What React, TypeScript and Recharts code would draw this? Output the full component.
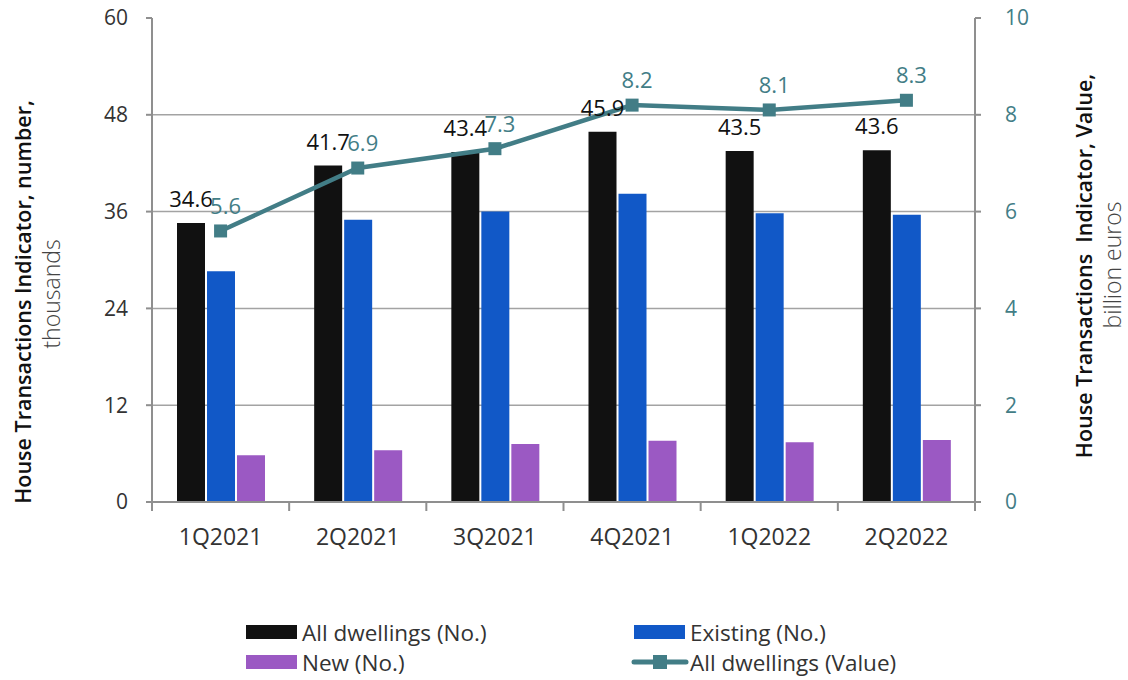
import React from "react";
import {
  ComposedChart,
  Bar,
  Line,
  XAxis,
  YAxis,
  CartesianGrid,
  LabelList,
} from "recharts";

const quarters = ["1Q2021", "2Q2021", "3Q2021", "4Q2021", "1Q2022", "2Q2022"];
const allDwellings = [34.6, 41.7, 43.4, 45.9, 43.5, 43.6];
const existing = [28.6, 35.0, 36.0, 38.2, 35.8, 35.6];
const newDwellings = [5.8, 6.4, 7.2, 7.6, 7.4, 7.7];
const valueBn = [5.6, 6.9, 7.3, 8.2, 8.1, 8.3];

const leftTicks = [0, 12, 24, 36, 48, 60];
const rightTicks = [0, 2, 4, 6, 8, 10];
const gridValues = [12, 24, 36, 48];

const seriesNames = [
  "All dwellings (No.)",
  "Existing (No.)",
  "New (No.)",
  "All dwellings (Value)",
];

const FONT = "'Open Sans', 'Noto Sans', sans-serif";
const BLACK = "#111111";
const BLUE = "#1158c7";
const PURPLE = "#9b59c3";
const TEAL = "#427d86";
const AXIS = "#8f8f8f";
const TEXT = "#333333";

const data = quarters.map((q, i) => ({
  quarter: q,
  all: allDwellings[i],
  existing: existing[i],
  fresh: newDwellings[i],
  value: valueBn[i],
}));

const XTick = (props: any) => {
  const { x, y, payload, index, visibleTicksCount } = props;
  const half = payload && payload.offset ? payload.offset : 68.6;
  const last = index === (visibleTicksCount ?? quarters.length) - 1;
  return (
    <g>
      <line x1={x - half} x2={x - half} y1={y} y2={y + 9} stroke={AXIS} strokeWidth={2} />
      {last && <line x1={x + half} x2={x + half} y1={y} y2={y + 9} stroke={AXIS} strokeWidth={2} />}
      <text x={x} y={y + 43} textAnchor="middle" fontSize={23} fill={TEXT} fontFamily={FONT}>
        {payload.value}
      </text>
    </g>
  );
};

const SquareDot = (props: any) => {
  const { cx, cy } = props;
  if (cx == null || cy == null) return null;
  return <rect x={cx - 6.5} y={cy - 6.5} width={13} height={13} fill={TEAL} />;
};

const ValueLabel = (props: any) => {
  const { x, y, value } = props;
  return (
    <text x={x + 5} y={y - 17} textAnchor="middle" fontSize={22} fill={TEAL} fontFamily={FONT}>
      {value}
    </text>
  );
};

const LeftTitle = () => (
  <g fontFamily={FONT}>
    <text
      x={22}
      y={302}
      transform="rotate(-90, 22, 302)"
      textAnchor="middle"
      dominantBaseline="central"
      fontSize={21.5}
      fontWeight={600}
      fill="#111"
    >
      House Transactions Indicator, number,
    </text>
    <text
      x={51}
      y={294}
      transform="rotate(-90, 51, 294)"
      textAnchor="middle"
      dominantBaseline="central"
      fontSize={23}
      fontWeight={300}
      fill="#444"
    >
      thousands
    </text>
  </g>
);

const RightTitle = () => (
  <g fontFamily={FONT}>
    <text
      x={1083}
      y={266}
      transform="rotate(-90, 1083, 266)"
      textAnchor="middle"
      dominantBaseline="central"
      fontSize={21.5}
      fontWeight={600}
      fill="#111"
      style={{ whiteSpace: "pre" }}
    >
      {"House Transactions  Indicator, Value,"}
    </text>
    <text
      x={1112}
      y={265}
      transform="rotate(-90, 1112, 265)"
      textAnchor="middle"
      dominantBaseline="central"
      fontSize={23}
      fontWeight={300}
      fill="#444"
    >
      billion euros
    </text>
  </g>
);

const LegendBlock = () => {
  const rows = [632, 662];
  const cols = [246, 634];
  const colors = [BLACK, BLUE, PURPLE];
  return (
    <svg
      width={1128}
      height={120}
      style={{ position: "absolute", left: 0, top: 560 }}
      viewBox="0 560 1128 120"
    >
      {seriesNames.map((name, i) => {
        const cx = cols[i % 2];
        const cy = rows[Math.floor(i / 2)];
        return (
          <g key={name}>
            {i < 3 ? (
              <rect x={cx} y={cy - 7} width={51} height={14} fill={colors[i]} />
            ) : (
              <g>
                <line x1={cx} x2={cx + 52} y1={cy} y2={cy} stroke={TEAL} strokeWidth={5} strokeLinecap="round" />
                <rect x={cx + 19} y={cy - 7} width={14} height={14} fill={TEAL} />
              </g>
            )}
            <text
              x={cx + 56}
              y={cy}
              dominantBaseline="central"
              fontSize={22.5}
              fill={TEXT}
              fontFamily={FONT}
            >
              {name}
            </text>
          </g>
        );
      })}
    </svg>
  );
};

export default function App() {
  return (
    <div style={{ position: "absolute", left: 0, top: 0, width: 1128, height: 680, background: "#fff" }}>
      <ComposedChart
        width={1128}
        height={560}
        data={data}
        margin={{ top: 18, right: 0, bottom: 0, left: 0 }}
        barGap={2}
      >
        <CartesianGrid
          yAxisId="left"
          vertical={false}
          horizontalValues={gridValues}
          stroke="#a3a3a3"
          strokeWidth={1.5}
        />
        <XAxis
          dataKey="quarter"
          height={58}
          axisLine={{ stroke: AXIS, strokeWidth: 2 }}
          tickLine={false}
          tickSize={0}
          tickMargin={0}
          tick={<XTick />}
          interval={0}
        />
        <YAxis
          yAxisId="left"
          domain={[0, 60]}
          ticks={leftTicks}
          width={152}
          axisLine={{ stroke: AXIS, strokeWidth: 2 }}
          tickLine={{ stroke: AXIS, strokeWidth: 2 }}
          tickSize={6}
          tickMargin={18}
          tick={{ fontSize: 21, fill: TEXT, fontFamily: FONT }}
          label={{ content: () => <LeftTitle /> }}
        />
        <YAxis
          yAxisId="right"
          orientation="right"
          domain={[0, 10]}
          ticks={rightTicks}
          width={153}
          axisLine={{ stroke: AXIS, strokeWidth: 2 }}
          tickLine={{ stroke: AXIS, strokeWidth: 2 }}
          tickSize={6}
          tickMargin={24}
          tick={{ fontSize: 21, fill: TEAL, fontFamily: FONT }}
          label={{ content: () => <RightTitle /> }}
        />
        <Bar yAxisId="left" dataKey="all" name={seriesNames[0]} fill={BLACK} barSize={28} isAnimationActive={false}>
          <LabelList
            dataKey="all"
            position="top"
            offset={16}
            style={{ fontSize: 22, fill: "#111", fontFamily: FONT }}
          />
        </Bar>
        <Bar yAxisId="left" dataKey="existing" name={seriesNames[1]} fill={BLUE} barSize={28} isAnimationActive={false} />
        <Bar yAxisId="left" dataKey="fresh" name={seriesNames[2]} fill={PURPLE} barSize={28} isAnimationActive={false} />
        <Line
          yAxisId="right"
          dataKey="value"
          name={seriesNames[3]}
          stroke={TEAL}
          strokeWidth={4.5}
          dot={<SquareDot />}
          activeDot={false}
          isAnimationActive={false}
        >
          <LabelList dataKey="value" content={<ValueLabel />} />
        </Line>
      </ComposedChart>
      <LegendBlock />
    </div>
  );
}
